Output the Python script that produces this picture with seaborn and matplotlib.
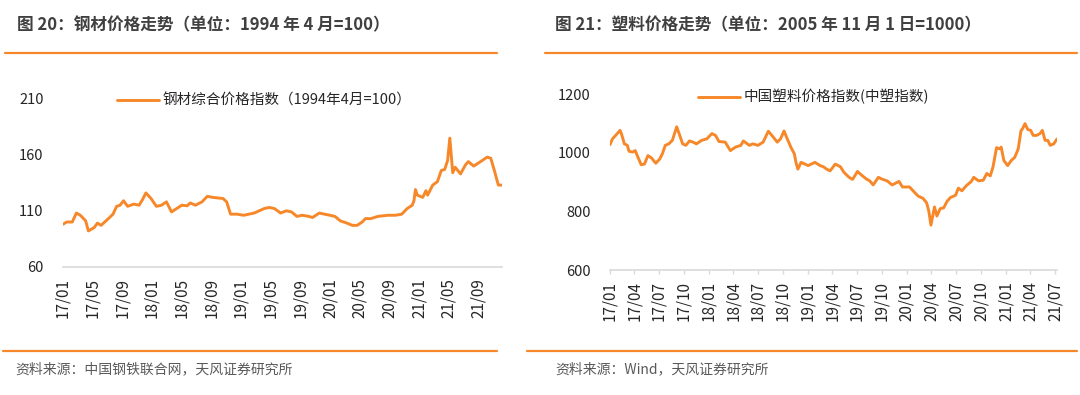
import pandas as pd
import numpy as np
import matplotlib
matplotlib.use('Agg')
import matplotlib.pyplot as plt
import matplotlib.dates as mdates
from matplotlib.lines import Line2D
import seaborn as sns

# --------------------- DATA --------------------- #

steel_dates = [
    '2017-01-01', '2017-01-17', '2017-02-08', '2017-02-25', '2017-03-13', '2017-04-04',
    '2017-04-15', '2017-05-09', '2017-05-22', '2017-06-06', '2017-07-11', '2017-07-25',
    '2017-08-09', '2017-08-23', '2017-09-06', '2017-09-23', '2017-10-18', '2017-11-09',
    '2017-11-23', '2017-12-07', '2017-12-28', '2018-01-19', '2018-02-09', '2018-03-01',
    '2018-03-22', '2018-04-12', '2018-05-03', '2018-05-25', '2018-06-07', '2018-06-28',
    '2018-07-25', '2018-08-16', '2018-09-06', '2018-10-19', '2018-11-03', '2018-11-19',
    '2018-12-15', '2019-01-12', '2019-02-24', '2019-04-06', '2019-04-27', '2019-05-18',
    '2019-06-12', '2019-07-06', '2019-07-27', '2019-08-18', '2019-09-09', '2019-10-06',
    '2019-10-21', '2019-11-18', '2019-12-09', '2020-01-01', '2020-01-21', '2020-02-12',
    '2020-03-10', '2020-04-01', '2020-04-21', '2020-05-12', '2020-05-25', '2020-06-16',
    '2020-07-15', '2020-08-25', '2020-09-24', '2020-10-21', '2020-11-12', '2020-12-03',
    '2020-12-10', '2020-12-16', '2020-12-24', '2021-01-15', '2021-01-28', '2021-02-04',
    '2021-02-25', '2021-03-16', '2021-04-01', '2021-04-15', '2021-04-27', '2021-05-06',
    '2021-05-18', '2021-05-28', '2021-06-19', '2021-07-09', '2021-07-21', '2021-08-12',
    '2021-09-09', '2021-10-06', '2021-10-21', '2021-11-06', '2021-11-21', '2021-12-06',
]
steel_values = [
    98, 100, 100, 108, 106, 101,
    92, 95, 99, 97, 104, 107,
    114, 115, 119, 114, 116, 115,
    120, 126, 121, 114, 115, 118,
    109, 112, 115, 114.5, 117, 115,
    118, 123, 122, 121, 118, 107,
    107, 106, 108, 112, 113, 112,
    108, 110, 109, 105, 106, 105,
    104, 108, 107, 106, 105, 101,
    99, 97, 97, 100, 103, 103,
    105, 106, 106, 107, 112, 115,
    119, 129, 124, 122, 128, 124,
    133, 136, 146, 147, 155, 175,
    144, 149, 143, 151, 154, 150,
    154, 158, 157, 145, 133, 133,
]

plastic_dates = [
    '2017-01-01', '2017-01-10', '2017-01-22', '2017-02-07', '2017-02-13', '2017-02-23',
    '2017-03-06', '2017-03-12', '2017-03-25', '2017-04-04', '2017-04-13', '2017-04-26',
    '2017-05-08', '2017-05-21', '2017-06-03', '2017-06-19', '2017-07-04', '2017-07-14',
    '2017-07-24', '2017-08-06', '2017-08-19', '2017-09-04', '2017-09-13', '2017-09-26',
    '2017-10-08', '2017-10-21', '2017-11-03', '2017-11-16', '2017-12-05', '2017-12-24',
    '2018-01-12', '2018-01-25', '2018-02-07', '2018-03-02', '2018-03-21', '2018-04-09',
    '2018-04-29', '2018-05-08', '2018-05-30', '2018-06-12', '2018-07-01', '2018-07-20',
    '2018-08-08', '2018-08-21', '2018-09-10', '2018-09-22', '2018-10-05', '2018-10-17',
    '2018-10-30', '2018-11-12', '2018-11-18', '2018-11-25', '2018-12-07', '2019-01-02',
    '2019-01-27', '2019-02-15', '2019-02-27', '2019-03-11', '2019-03-24', '2019-04-12',
    '2019-05-01', '2019-05-14', '2019-06-02', '2019-06-15', '2019-07-03', '2019-07-16',
    '2019-08-05', '2019-08-17', '2019-08-30', '2019-09-18', '2019-10-01', '2019-10-20',
    '2019-11-08', '2019-12-03', '2019-12-16', '2020-01-11', '2020-01-30', '2020-02-12',
    '2020-03-01', '2020-03-14', '2020-03-22', '2020-03-30', '2020-04-12', '2020-04-21',
    '2020-05-03', '2020-05-16', '2020-05-29', '2020-06-10', '2020-06-29', '2020-07-09',
    '2020-07-22', '2020-08-07', '2020-08-26', '2020-09-04', '2020-09-21', '2020-10-09',
    '2020-10-22', '2020-11-04', '2020-11-14', '2020-11-27', '2020-12-09', '2020-12-14',
    '2020-12-24', '2021-01-07', '2021-01-20', '2021-02-02', '2021-02-15', '2021-02-25',
    '2021-03-03', '2021-03-12', '2021-03-22', '2021-04-02', '2021-04-11', '2021-04-24',
    '2021-05-06', '2021-05-15', '2021-05-25', '2021-06-04', '2021-06-13', '2021-06-26',
    '2021-07-08',
]
plastic_values = [
    1027, 1047, 1059, 1076, 1062, 1030,
    1025, 1005, 1002, 1007, 987, 959,
    961, 990, 982, 964, 979, 998,
    1025, 1030, 1042, 1088, 1065, 1030,
    1025, 1040, 1036, 1030, 1042, 1047,
    1065, 1059, 1038, 1036, 1007, 1019,
    1025, 1040, 1025, 1030, 1025, 1036,
    1073, 1059, 1036, 1047, 1074, 1047,
    1019, 996, 967, 944, 967, 956,
    967, 956, 952, 944, 938, 961,
    952, 933, 916, 909, 936, 925,
    910, 904, 890, 916, 910, 904,
    890, 902, 883, 883, 864, 852,
    844, 829, 801, 753, 815, 784,
    809, 812, 835, 847, 855, 879,
    870, 887, 902, 916, 904, 906,
    929, 921, 952, 1017, 1013, 1019,
    973, 956, 973, 984, 1013, 1074,
    1082, 1099, 1079, 1076, 1059, 1059,
    1065, 1076, 1042, 1042, 1025, 1030,
    1047,
]

steel_ticks = [0, 4, 8, 12, 16, 20, 24, 28, 32, 36, 40, 44, 48, 52, 56]
plastic_ticks = list(range(0, 55, 3))

steel_df = pd.DataFrame({'date': pd.to_datetime(steel_dates), 'value': steel_values})
plastic_df = pd.DataFrame({'date': pd.to_datetime(plastic_dates), 'value': plastic_values})

# --------------------- STYLE --------------------- #

sns.set_theme(style='white')
plt.rcParams['font.family'] = ['Noto Sans CJK SC', 'DejaVu Sans']

ORANGE = '#F7882A'
TEXT = '#262626'
GRID = '#D9D9D9'

fig = plt.figure(figsize=(10.8, 3.95), dpi=100)

ax1 = fig.add_axes([63 / 1080, 1 - 266.7 / 395, (502 - 63) / 1080, (266.7 - 99) / 395])
ax2 = fig.add_axes([610 / 1080, 1 - 270 / 395, (1057 - 610) / 1080, (270 - 94) / 395])


def month_starts(offsets):
    return [pd.Timestamp('2017-01-01') + pd.DateOffset(months=m) for m in offsets]


# --------------------- STEEL --------------------- #

sns.lineplot(data=steel_df, x='date', y='value', ax=ax1, color=ORANGE, linewidth=2.1,
             label='钢材综合价格指数（1994年4月=100）')
ax1.set_ylim(60, 210)
ax1.set_yticks([60, 110, 160, 210])
ax1.set_xlim(steel_df['date'].min(), steel_df['date'].max())
ax1.set_xticks(month_starts(steel_ticks))
ax1.xaxis.set_major_formatter(mdates.DateFormatter('%y/%m'))
for s in ['top', 'right', 'left']:
    ax1.spines[s].set_visible(False)
ax1.spines['bottom'].set_color(GRID)
ax1.spines['bottom'].set_linewidth(1.2)
ax1.tick_params(axis='x', length=0, pad=8, labelrotation=90, labelsize=11, labelcolor=TEXT)
ax1.tick_params(axis='y', length=0, pad=14, labelsize=10.5, labelcolor=TEXT)
ax1.set_xlabel('')
ax1.set_ylabel('')
ax1.legend(loc='center left', bbox_to_anchor=(117 / 1080, 1 - 101 / 395),
           bbox_transform=fig.transFigure, frameon=False, fontsize=10.5,
           handlelength=2.9, handletextpad=0.25, borderpad=0, borderaxespad=0)

# --------------------- PLASTIC --------------------- #

sns.lineplot(data=plastic_df, x='date', y='value', ax=ax2, color=ORANGE, linewidth=2.1,
             label='中国塑料价格指数(中塑指数)')
ax2.set_ylim(600, 1200)
ax2.set_yticks([600, 800, 1000, 1200])
ax2.set_xlim(plastic_df['date'].min(), plastic_df['date'].max())
ax2.set_xticks(month_starts(plastic_ticks))
ax2.xaxis.set_major_formatter(mdates.DateFormatter('%y/%m'))
for s in ['top', 'right', 'left']:
    ax2.spines[s].set_visible(False)
ax2.spines['bottom'].set_color(GRID)
ax2.spines['bottom'].set_linewidth(1.2)
ax2.tick_params(axis='x', length=3, width=1, color=GRID, direction='out', pad=5,
                labelrotation=90, labelsize=11, labelcolor=TEXT, bottom=True)
ax2.tick_params(axis='y', length=0, pad=14, labelsize=10.5, labelcolor=TEXT)
ax2.set_xlabel('')
ax2.set_ylabel('')
ax2.legend(loc='center left', bbox_to_anchor=(698 / 1080, 1 - 97 / 395),
           bbox_transform=fig.transFigure, frameon=False, fontsize=10.5,
           handlelength=2.9, handletextpad=0.25, borderpad=0, borderaxespad=0)

# --------------------- TITLES, RULES, SOURCES --------------------- #

fig.text(17 / 1080, 1 - 25 / 395, '图 20：钢材价格走势（单位：1994 年 4 月=100）',
         fontsize=12, fontweight='bold', color='#404040', va='center', ha='left')
fig.text(555 / 1080, 1 - 25 / 395, '图 21：塑料价格走势（单位：2005 年 11 月 1 日=1000）',
         fontsize=12, fontweight='bold', color='#404040', va='center', ha='left')

for x0, x1, y in [(5, 497, 53), (545, 1077, 53), (3, 497, 351), (527, 1077, 351)]:
    fig.add_artist(Line2D([x0 / 1080, x1 / 1080], [1 - y / 395, 1 - y / 395],
                          transform=fig.transFigure, color=ORANGE, linewidth=1.6))

fig.text(15 / 1080, 1 - 369 / 395, '资料来源：中国钢铁联合网，天风证券研究所',
         fontsize=10, color='#595959', va='center', ha='left')
fig.text(555 / 1080, 1 - 369 / 395, '资料来源：Wind，天风证券研究所',
         fontsize=10, color='#595959', va='center', ha='left')

fig.savefig('out.png', dpi=100)
